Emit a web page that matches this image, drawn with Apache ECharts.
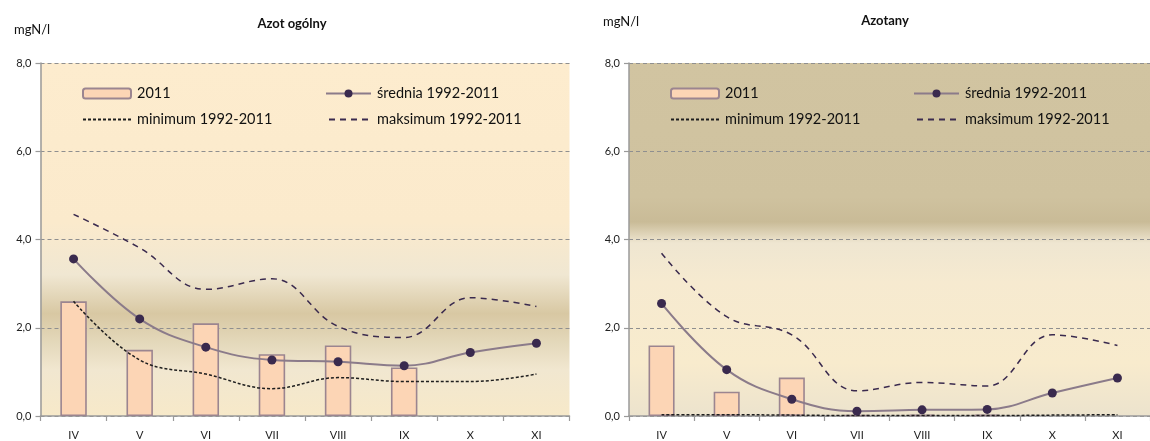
<!DOCTYPE html>
<html>
<head>
<meta charset="utf-8">
<script src="https://cdn.jsdelivr.net/npm/echarts@6/dist/echarts.min.js"></script>
<style>
  html, body { margin: 0; padding: 0; background: #ffffff; }
  #chart { width: 1150px; height: 441px; }
</style>
</head>
<body>
<div id="chart"></div>
<script>
// Months (Roman numerals) on the category axis
const months = ['IV', 'V', 'VI', 'VII', 'VIII', 'IX', 'X', 'XI'];
const yTicks = [0, 2, 4, 6, 8];

// Azot ogólny [mgN/l]
const totalN2011 = [2.6, 1.5, 2.1, 1.4, 1.6, 1.1, null, null];
const totalNMean = [3.56, 2.2, 1.56, 1.27, 1.23, 1.14, 1.44, 1.65];
const totalNMin  = [2.6, 1.27, 0.95, 0.62, 0.87, 0.78, 0.78, 0.95];
const totalNMax  = [4.57, 3.81, 2.87, 3.11, 2.03, 1.78, 2.68, 2.48];

// Azotany [mgN/l]
const nitrate2011 = [1.6, 0.55, 0.87, 0.02, 0.03, 0.03, null, null];
const nitrateMean = [2.55, 1.05, 0.38, 0.11, 0.14, 0.15, 0.52, 0.86];
const nitrateMin  = [0.03, 0.03, 0.02, 0.01, 0.01, 0.01, 0.02, 0.03];
const nitrateMax  = [3.69, 2.25, 1.84, 0.57, 0.76, 0.68, 1.84, 1.6];

const names = ['2011', 'średnia 1992-2011', 'minimum 1992-2011', 'maksimum 1992-2011'];

const FONT = 'Lato, "Open Sans", sans-serif';
const axisGrey = '#9a9a9a';

const bgLeft = new echarts.graphic.LinearGradient(0, 0, 0, 1, [
  { offset: 0.00, color: '#fdecce' },
  { offset: 0.45, color: '#fbeacc' },
  { offset: 0.60, color: '#f0e7d2' },
  { offset: 0.71, color: '#d8c8a3' },
  { offset: 0.80, color: '#e5dabd' },
  { offset: 0.87, color: '#f1e7d0' },
  { offset: 1.00, color: '#f7e9c9' }
]);
const bgRight = new echarts.graphic.LinearGradient(0, 0, 0, 1, [
  { offset: 0.00, color: '#d1c4a1' },
  { offset: 0.38, color: '#cfc29f' },
  { offset: 0.45, color: '#c9bb97' },
  { offset: 0.51, color: '#efe6d1' },
  { offset: 0.62, color: '#f6ead0' },
  { offset: 0.85, color: '#f8ebcd' },
  { offset: 1.00, color: '#ece3cd' }
]);

function xAxis(gridIndex) {
  return {
    type: 'category', gridIndex, data: months, boundaryGap: true,
    axisLine: { lineStyle: { color: axisGrey, width: 1.5 } },
    axisTick: { show: true, length: 5, lineStyle: { color: axisGrey, width: 1.2 } },
    axisLabel: { color: '#222', fontFamily: FONT, fontSize: 11, margin: 14 }
  };
}
function yAxis(gridIndex) {
  return {
    type: 'value', gridIndex, min: 0, max: 8, interval: 2,
    axisLine: { show: true, lineStyle: { color: axisGrey, width: 1.5 } },
    axisTick: { show: true, length: 5, lineStyle: { color: axisGrey, width: 1.2 } },
    axisLabel: {
      color: '#222', fontFamily: FONT, fontSize: 11, margin: 9,
      formatter: v => yTicks.includes(v) ? v.toFixed(1).replace('.', ',') : ''
    },
    splitLine: { show: true, lineStyle: { color: '#8f8f8f', type: [4, 3], width: 1 } }
  };
}
function seriesFor(i, bars, mean, min, max) {
  return [
    {
      name: names[0], type: 'bar', xAxisIndex: i, yAxisIndex: i, data: bars,
      barWidth: '40%',
      itemStyle: { color: '#fcd5b5', borderColor: '#9b8590', borderWidth: 1.6 }
    },
    {
      name: names[1], type: 'line', xAxisIndex: i, yAxisIndex: i, data: mean,
      smooth: 0.4, symbol: 'circle', symbolSize: 9, z: 5,
      lineStyle: { color: '#8b7b8a', width: 2 },
      itemStyle: { color: '#3a2a4e' }
    },
    {
      name: names[2], type: 'line', xAxisIndex: i, yAxisIndex: i, data: min,
      smooth: 0.4, symbol: 'none', z: 4,
      lineStyle: { color: '#1e1e1e', width: 1.5, type: [3, 2] },
      itemStyle: { color: '#1e1e1e' }
    },
    {
      name: names[3], type: 'line', xAxisIndex: i, yAxisIndex: i, data: max,
      smooth: 0.4, symbol: 'none', z: 4,
      lineStyle: { color: '#3a2a4e', width: 1.5, type: [6, 5] },
      itemStyle: { color: '#3a2a4e' }
    }
  ];
}
function legend(name, left, top, width, hideSymbol) {
  const l = {
    data: [name], left, top, padding: 0, itemWidth: width, itemHeight: 10, itemGap: 0,
    selectedMode: false,
    textStyle: { color: '#111', fontFamily: FONT, fontSize: 14.5, padding: [0, 0, 0, 1] }
  };
  if (hideSymbol) l.itemStyle = { opacity: 0 };
  return l;
}

const chart = echarts.init(document.getElementById('chart'), null, { renderer: 'canvas' });
chart.setOption({
  animation: false,
  backgroundColor: '#ffffff',
  title: [
    { text: 'Azot ogólny', left: 287, top: 12, textAlign: 'center',
      textStyle: { fontFamily: FONT, fontSize: 13, fontWeight: 'bold', color: '#111' } },
    { text: 'mgN/l', left: 9, top: 18,
      textStyle: { fontFamily: FONT, fontSize: 13, fontWeight: 'normal', color: '#111' } },
    { text: 'Azotany', left: 880, top: 9, textAlign: 'center',
      textStyle: { fontFamily: FONT, fontSize: 13, fontWeight: 'bold', color: '#111' } },
    { text: 'mgN/l', left: 598, top: 10,
      textStyle: { fontFamily: FONT, fontSize: 13, fontWeight: 'normal', color: '#111' } }
  ],
  legend: [
    legend(names[0], 82, 86, 48),
    legend(names[1], 325, 86, 45),
    legend(names[2], 82, 112, 48, true),
    legend(names[3], 328, 112, 42, true),
    legend(names[0], 670, 86, 48),
    legend(names[1], 913, 86, 45),
    legend(names[2], 670, 112, 48, true),
    legend(names[3], 916, 112, 42, true)
  ],
  grid: [
    { left: 40.5, top: 63, width: 529, height: 353.5, show: true, borderWidth: 0, backgroundColor: bgLeft },
    { left: 629, top: 63, width: 530, height: 353.5, show: true, borderWidth: 0, backgroundColor: bgRight }
  ],
  xAxis: [xAxis(0), xAxis(1)],
  yAxis: [yAxis(0), yAxis(1)],
  series: [
    ...seriesFor(0, totalN2011, totalNMean, totalNMin, totalNMax),
    ...seriesFor(1, nitrate2011, nitrateMean, nitrateMin, nitrateMax)
  ]
});
</script>
</body>
</html>
